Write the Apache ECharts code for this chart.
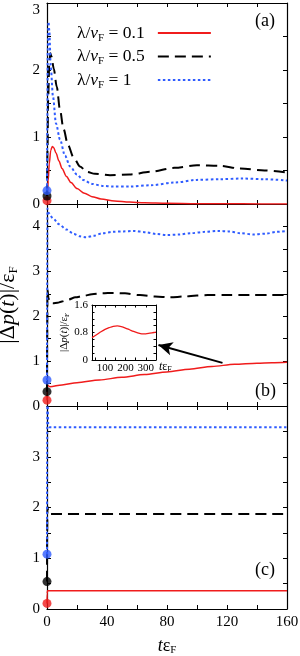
<!DOCTYPE html>
<html><head><meta charset="utf-8">
<script src="https://cdn.jsdelivr.net/npm/echarts@6/dist/echarts.min.js"></script>
<style>html,body{margin:0;padding:0;background:#fff}#c{width:300px;height:656px}</style>
</head><body><div id="c"></div>
<script>
const FONT = 'Liberation Serif';
const RED = '#f01c1c', BLACK = '#000000', BLUE = '#2f5cff';
const legendNames = ['0.1', '0.5', '1'];
const xTickLabels = [0, 40, 80, 120, 160];

// panel (a)
const redA_t = [0, 0.3, 0.8, 1.5, 2.5, 3.5, 4.5, 6, 8, 10, 13, 16, 20, 25, 30, 36, 45, 55, 65, 80, 100, 130, 160];
const redA_v = [0.05, 0.15, 0.35, 0.6, 0.8, 0.86, 0.84, 0.76, 0.64, 0.53, 0.41, 0.32, 0.23, 0.16, 0.11, 0.075, 0.045, 0.028, 0.018, 0.01, 0.005, 0.002, 0.001];
const blackA_t = [0, 0.3, 0.8, 1.5, 2.2, 3, 4.5, 6.5, 8.7, 11, 14, 17.6, 22, 26.5, 32, 42, 55, 69, 85, 100, 115, 129, 145, 160];
const blackA_v = [0.12, 0.8, 1.6, 2.1, 2.25, 2.2, 2.02, 1.75, 1.4, 1.12, 0.88, 0.7, 0.56, 0.48, 0.45, 0.43, 0.44, 0.48, 0.54, 0.58, 0.57, 0.53, 0.5, 0.47];
const blueA_t = [0, 0.2, 0.5, 1, 1.5, 2.5, 4, 6, 8.7, 12, 15.4, 20, 24, 30, 37, 44, 55, 69, 85, 100, 115, 130, 145, 160];
const blueA_v = [0.2, 1.2, 2.3, 2.72, 2.6, 2.05, 1.6, 1.2, 0.96, 0.72, 0.56, 0.44, 0.36, 0.3, 0.27, 0.26, 0.26, 0.28, 0.32, 0.36, 0.37, 0.38, 0.37, 0.35];
const dotsA = [0.05, 0.12, 0.2];

// panel (b)
const redB_t = [0, 0.2, 0.5, 2, 10, 20, 35, 50, 65, 80, 95, 110, 125, 140, 150, 160];
const redB_v = [0.13, 0.47, 0.46, 0.43, 0.47, 0.52, 0.58, 0.64, 0.7, 0.76, 0.82, 0.88, 0.93, 0.955, 0.965, 0.975];
const blackB_t = [0, 0.1, 0.3, 1, 2, 4, 7, 10, 14, 19, 24, 30, 37, 44, 52, 62, 72, 82, 92, 100, 107, 120, 135, 150, 160];
const blackB_v = [0.32, 1.5, 2.6, 2.4, 2.3, 2.29, 2.3, 2.33, 2.37, 2.42, 2.45, 2.49, 2.51, 2.52, 2.51, 2.47, 2.44, 2.42, 2.44, 2.46, 2.47, 2.47, 2.47, 2.47, 2.47];
const blueB_t = [0, 0.1, 0.3, 1, 4, 8, 13, 18, 22, 26, 31, 37, 44, 51, 58, 66, 73, 80, 88, 96, 105, 114, 121, 129, 138, 146, 153, 160];
const blueB_v = [0.58, 2.5, 4.4, 4.3, 4.18, 4.05, 3.93, 3.83, 3.78, 3.76, 3.79, 3.85, 3.88, 3.89, 3.9, 3.87, 3.83, 3.81, 3.82, 3.85, 3.88, 3.9, 3.89, 3.85, 3.82, 3.84, 3.88, 3.9];
const dotsB = [0.13, 0.32, 0.58];

// inset of (b)
const inset_t = [36, 60, 80, 100, 120, 140, 160, 180, 200, 220, 240, 260, 280, 300, 320, 340, 350];
const inset_v = [0.65, 0.74, 0.82, 0.89, 0.94, 0.98, 0.99, 0.97, 0.93, 0.88, 0.83, 0.79, 0.76, 0.76, 0.78, 0.8, 0.81];
const insetXLabels = [100, 200, 300];
const insetYLabels = [0, 0.8, 1.6];

// panel (c)
const redC_t = [0, 0.1, 0.3, 160];
const redC_v = [0.11, 0.3, 0.36, 0.36];
const blackC_t = [0, 0.1, 0.3, 0.6, 1, 2, 160];
const blackC_v = [0.54, 1.5, 2.02, 1.95, 1.88, 1.87, 1.87];
const blueC_t = [0, 0.1, 0.25, 0.5, 0.8, 1.2, 2, 160];
const blueC_v = [1.08, 3.0, 4.6, 4.0, 3.65, 3.6, 3.58, 3.58];
const dotsC = [0.11, 0.54, 1.08];

// arrow annotation (data coords of panel b)
const arrowFrom = [117, 0.96];
const arrowTo = [74.3, 1.36];

const zip = (t, v) => t.map((x, i) => [x, v[i]]);
const dotColors = [RED, BLACK, BLUE];

function xAx(g, pos, showLab) {
  return {
    type: 'value', gridIndex: g, position: pos, min: 0, max: 160, interval: 20,
    axisLine: { show: true, onZero: false, lineStyle: { color: '#000', width: 1.2 } },
    axisTick: { show: true, inside: true, length: 4, lineStyle: { color: '#000' } },
    axisLabel: { show: showLab, margin: 6, color: '#000', fontFamily: FONT, fontSize: 15,
      formatter: v => xTickLabels.includes(v) ? String(v) : '' },
    splitLine: { show: false }
  };
}
function yAx(g, pos, max, labMax, extra) {
  return Object.assign({
    type: 'value', gridIndex: g, position: pos, min: 0, max: max, interval: 0.5,
    axisLine: { show: true, onZero: false, lineStyle: { color: '#000', width: 1.2 } },
    axisTick: { show: true, inside: true, length: 4, lineStyle: { color: '#000' } },
    axisLabel: { show: pos === 'left', margin: 7, color: '#000', fontFamily: FONT, fontSize: 15,
      formatter: v => (Number.isInteger(v) && v <= labMax) ? String(v) : '' },
    splitLine: { show: false }
  }, extra || {});
}

const yTitle = '{n||Δ}{i|p}{n|(}{i|t}{n|)|/ε}{s|F}';

const lineS = (name, g, t, v, color, type, w) => ({
  type: 'line', name: name, xAxisIndex: 2 * g, yAxisIndex: 2 * g, data: zip(t, v),
  showSymbol: false, symbol: 'none', smooth: 0.3, smoothMonotone: 'x',
  lineStyle: { color: color, width: w, type: type }, itemStyle: { color: color }, z: 3
});
const solid = 'solid', dashed = [11, 6], dotted = [2.5, 2.5];

const dotS = (g, vals) => ({
  type: 'scatter', xAxisIndex: 2 * g, yAxisIndex: 2 * g, symbolSize: 9, clip: false, z: 5,
  data: vals.map((v, i) => ({ value: [0, v], itemStyle: { color: dotColors[i] } }))
});

const gridBase = { containLabel: false, outerBoundsMode: 'none' };
const LF = 17.5;
const option = {
  animation: false,
  grid: [
    Object.assign({ left: 47, right: 13, top: 3, height: 201 }, gridBase),
    Object.assign({ left: 47, right: 13, top: 204, height: 202 }, gridBase),
    Object.assign({ left: 47, right: 13, top: 406, height: 203 }, gridBase),
    Object.assign({ left: 92, top: 305, width: 64, height: 55 }, gridBase)
  ],
  xAxis: [
    xAx(0, 'bottom', false), xAx(0, 'top', false),
    xAx(1, 'bottom', false), xAx(1, 'top', false),
    Object.assign(xAx(2, 'bottom', true), {
      name: '{i|t}{n|ε}{s|F}', nameLocation: 'middle', nameGap: 27,
      nameTextStyle: { fontFamily: FONT, color: '#000', rich: {
        i: { fontFamily: FONT, fontStyle: 'italic', fontSize: 18, lineHeight: 20, color: '#000' },
        n: { fontFamily: FONT, fontSize: 18, lineHeight: 20, color: '#000' },
        s: { fontFamily: FONT, fontSize: 11, verticalAlign: 'bottom', color: '#000' } } }
    }),
    xAx(2, 'top', false),
    { type: 'value', gridIndex: 3, position: 'bottom', min: 36, max: 350,
      axisLine: { show: true, onZero: false, lineStyle: { color: '#000', width: 1 } },
      axisTick: { show: true, inside: true, length: 2.5, customValues: [50, 100, 150, 200, 250, 300] },
      axisLabel: { customValues: insetXLabels, margin: 3, color: '#000', fontFamily: FONT, fontSize: 11 },
      splitLine: { show: false },
      name: '{i|t}{n|ε}{s|F}', nameLocation: 'end', nameGap: 3,
      nameTextStyle: { fontFamily: FONT, color: '#000', padding: [14, 0, 0, 0], rich: {
        i: { fontFamily: FONT, fontStyle: 'italic', fontSize: 12, lineHeight: 14, color: '#000' },
        n: { fontFamily: FONT, fontSize: 12, lineHeight: 14, color: '#000' },
        s: { fontFamily: FONT, fontSize: 8, verticalAlign: 'bottom', color: '#000' } } } },
    { type: 'value', gridIndex: 3, position: 'top', min: 36, max: 350,
      axisLine: { show: true, onZero: false, lineStyle: { color: '#000', width: 1 } },
      axisTick: { show: true, inside: true, length: 2.5, customValues: [50, 100, 150, 200, 250, 300] },
      axisLabel: { show: false }, splitLine: { show: false } }
  ],
  yAxis: [
    yAx(0, 'left', 3, 3, { axisLabel: { margin: 7, color: '#000', fontFamily: FONT, fontSize: 15,
      verticalAlignMaxLabel: 'top',
      formatter: v => (Number.isInteger(v) && v <= 3) ? String(v) : '' } }),
    yAx(0, 'right', 3, 3),
    yAx(1, 'left', 4.5, 4, {
      name: yTitle, nameLocation: 'middle', nameRotate: 90, nameGap: 27,
      nameTextStyle: { fontFamily: FONT, color: '#000', rich: {
        n: { fontFamily: FONT, fontSize: 22, lineHeight: 24, color: '#000' },
        i: { fontFamily: FONT, fontStyle: 'italic', fontSize: 22, lineHeight: 24, color: '#000' },
        s: { fontFamily: FONT, fontSize: 13, verticalAlign: 'bottom', color: '#000' } } }
    }),
    yAx(1, 'right', 4.5, 4),
    yAx(2, 'left', 4, 3),
    yAx(2, 'right', 4, 3),
    { type: 'value', gridIndex: 3, position: 'left', min: 0, max: 1.6, interval: 0.2,
      axisLine: { show: true, onZero: false, lineStyle: { color: '#000', width: 1 } },
      axisTick: { show: true, inside: true, length: 2.5 },
      axisLabel: { margin: 4, color: '#000', fontFamily: FONT, fontSize: 11,
        formatter: v => insetYLabels.includes(+v.toFixed(1)) ? String(+v.toFixed(1)) : '' },
      splitLine: { show: false },
      name: yTitle, nameLocation: 'middle', nameRotate: 90, nameGap: 17,
      nameTextStyle: { fontFamily: FONT, color: '#000', rich: {
        n: { fontFamily: FONT, fontSize: 11, lineHeight: 13, color: '#000' },
        i: { fontFamily: FONT, fontStyle: 'italic', fontSize: 11, lineHeight: 13, color: '#000' },
        s: { fontFamily: FONT, fontSize: 7, verticalAlign: 'bottom', color: '#000' } } } },
    { type: 'value', gridIndex: 3, position: 'right', min: 0, max: 1.6, interval: 0.2,
      axisLine: { show: true, onZero: false, lineStyle: { color: '#000', width: 1 } },
      axisTick: { show: true, inside: true, length: 2.5 },
      axisLabel: { show: false }, splitLine: { show: false } }
  ],
  legend: {
    left: 72, top: 19, orient: 'vertical', align: 'right', selectedMode: false,
    itemWidth: 53, itemHeight: 14, itemGap: 4,
    itemStyle: { opacity: 0 },
    data: legendNames,
    formatter: n => '{a|λ/}{i|ν}{s|F}{a| = }{c|' + n + '}',
    textStyle: { fontFamily: FONT, fontSize: LF, color: '#000', rich: {
      a: { fontFamily: FONT, fontSize: LF, lineHeight: 21, color: '#000', align: 'left' },
      i: { fontFamily: FONT, fontStyle: 'italic', fontSize: LF, lineHeight: 21, color: '#000', align: 'left' },
      s: { fontFamily: FONT, fontSize: 11, verticalAlign: 'bottom', color: '#000', align: 'left' },
      c: { fontFamily: FONT, fontSize: LF, lineHeight: 21, color: '#000', width: 30, align: 'left' } } }
  },
  graphic: [
    { type: 'text', left: 255, top: 12, style: { text: '(a)', font: '18px "Liberation Serif"', fill: '#000' } },
    { type: 'text', left: 255, top: 382, style: { text: '(b)', font: '18px "Liberation Serif"', fill: '#000' } },
    { type: 'text', left: 255, top: 561, style: { text: '(c)', font: '18px "Liberation Serif"', fill: '#000' } }
  ],
  series: [
    lineS('0.1', 0, redA_t, redA_v, RED, solid, 1.5),
    lineS('0.5', 0, blackA_t, blackA_v, BLACK, dashed, 2),
    lineS('1', 0, blueA_t, blueA_v, BLUE, dotted, 2),
    dotS(0, dotsA),
    Object.assign(lineS('red b', 1, redB_t, redB_v, RED, solid, 1.5), {
      markLine: { silent: true, symbol: ['none', 'arrow'], symbolSize: [10, 14],
        lineStyle: { color: '#000', width: 2, type: 'solid' }, label: { show: false },
        data: [[{ coord: arrowFrom }, { coord: arrowTo }]] }
    }),
    lineS('black b', 1, blackB_t, blackB_v, BLACK, dashed, 2),
    lineS('blue b', 1, blueB_t, blueB_v, BLUE, dotted, 2),
    dotS(1, dotsB),
    { type: 'line', name: 'inset', xAxisIndex: 6, yAxisIndex: 6, data: zip(inset_t, inset_v),
      showSymbol: false, symbol: 'none', smooth: 0.3, lineStyle: { color: RED, width: 1.3 }, z: 6 },
    lineS('red c', 2, redC_t, redC_v, RED, solid, 1.5),
    lineS('black c', 2, blackC_t, blackC_v, BLACK, dashed, 2),
    lineS('blue c', 2, blueC_t, blueC_v, BLUE, dotted, 2),
    dotS(2, dotsC)
  ]
};
const chart = echarts.init(document.getElementById('c'), null, { renderer: 'canvas' });
chart.setOption(option);
</script></body></html>
